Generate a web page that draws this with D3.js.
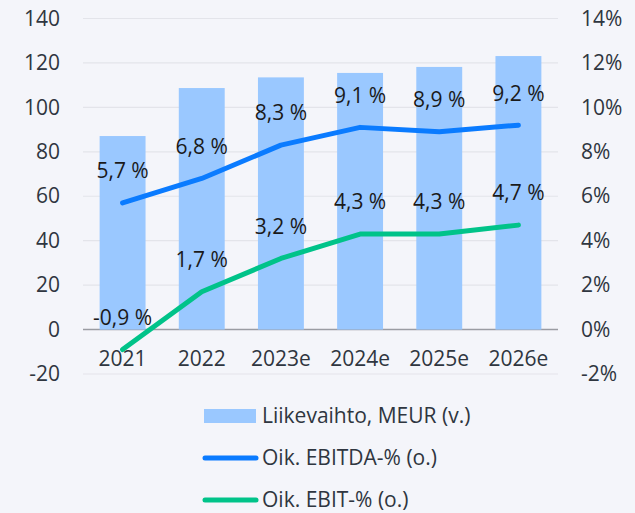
<!DOCTYPE html>
<html lang="fi">
<head>
<meta charset="UTF-8">
<title>Liikevaihto ja kannattavuus</title>
<style>
    body { margin: 0; background: #f4f5fa; }
    svg { display: block; font-family: "Open Sans", sans-serif; }
</style>
</head>
<body>
<svg></svg>
<script src="https://cdn.jsdelivr.net/npm/d3@7/dist/d3.min.js"></script>
<script>
const years = ["2021", "2022", "2023e", "2024e", "2025e", "2026e"];
const revenue = [87.1, 108.7, 113.5, 115.5, 118.2, 123.1];
const ebitdaPct = [5.7, 6.8, 8.3, 9.1, 8.9, 9.2];
const ebitPct = [-0.9, 1.7, 3.2, 4.3, 4.3, 4.7];
const leftTicks = [-20, 0, 20, 40, 60, 80, 100, 120, 140];
const rightTicks = [-2, 0, 2, 4, 6, 8, 10, 12, 14];
const legendText = ["Liikevaihto, MEUR (v.)", "Oik. EBITDA-% (o.)", "Oik. EBIT-% (o.)"];

const width = 635, height = 513;
const margin = { left: 83, right: 77, top: 18.5, bottom: 139 };
const fontSize = 21;
const textColor = "#2f3640";

const svg = d3.select("svg").attr("width", width).attr("height", height);

const x = d3.scaleBand().domain(years)
    .range([margin.left, width - margin.right])
    .paddingInner(0.42).paddingOuter(0.21);
const yL = d3.scaleLinear().domain([-20, 140]).range([height - margin.bottom, margin.top]);
const yR = d3.scaleLinear().domain([-2, 14]).range([height - margin.bottom, margin.top]);

// grid
svg.append("g").selectAll("line").data(leftTicks).join("line")
    .attr("x1", margin.left).attr("x2", width - margin.right)
    .attr("y1", d => yL(d)).attr("y2", d => yL(d))
    .attr("stroke", d => d === 0 ? "#9a9ca3" : "#e3e4ea")
    .attr("stroke-width", d => d === 0 ? 1.5 : 1.2);

// left axis
const axL = svg.append("g").attr("transform", `translate(${margin.left - 23},0)`)
    .call(d3.axisLeft(yL).tickValues(leftTicks).tickSize(0).tickPadding(0).tickFormat(d => String(d)));
axL.select(".domain").remove();
axL.selectAll("text").attr("font-size", fontSize).attr("fill", textColor).attr("font-family", "Open Sans");

// right axis
const axR = svg.append("g").attr("transform", `translate(${width - margin.right + 23},0)`)
    .call(d3.axisRight(yR).tickValues(rightTicks).tickSize(0).tickPadding(0).tickFormat(d => d + "%"));
axR.select(".domain").remove();
axR.selectAll("text").attr("font-size", fontSize).attr("fill", textColor).attr("font-family", "Open Sans");

// bars
svg.append("g").selectAll("rect").data(revenue).join("rect")
    .attr("x", (d, i) => x(years[i]))
    .attr("width", x.bandwidth())
    .attr("y", d => yL(d))
    .attr("height", d => yL(0) - yL(d))
    .attr("fill", "#9ac8ff");

// x labels
svg.append("g").selectAll("text").data(years).join("text")
    .attr("x", d => x(d) + x.bandwidth() / 2)
    .attr("y", yL(0) + 29)
    .attr("dy", "0.35em")
    .attr("text-anchor", "middle")
    .attr("font-size", fontSize).attr("fill", textColor)
    .text(d => d);

const line = d3.line()
    .x((d, i) => x(years[i]) + x.bandwidth() / 2)
    .y(d => yR(d));

const series = [
    { values: ebitdaPct, color: "#0a7bff" },
    { values: ebitPct, color: "#00c389" }
];

series.forEach(s => {
    svg.append("path").datum(s.values)
        .attr("d", line)
        .attr("fill", "none")
        .attr("stroke", s.color)
        .attr("stroke-width", 5)
        .attr("stroke-linecap", "round")
        .attr("stroke-linejoin", "round");

    svg.append("g").selectAll("text").data(s.values).join("text")
        .attr("x", (d, i) => x(years[i]) + x.bandwidth() / 2)
        .attr("y", d => yR(d) - 32)
        .attr("dy", "0.35em")
        .attr("text-anchor", "middle")
        .attr("font-size", fontSize).attr("fill", "#1a1a1a")
        .text(d => d.toFixed(1).replace(".", ",") + " %");
});

// legend
const legend = svg.append("g");
legend.append("rect").attr("x", 204).attr("y", 409).attr("width", 52).attr("height", 14).attr("fill", "#9ac8ff");
legend.append("line").attr("x1", 205).attr("x2", 256).attr("y1", 458).attr("y2", 458)
    .attr("stroke", "#0a7bff").attr("stroke-width", 5).attr("stroke-linecap", "round");
legend.append("line").attr("x1", 205).attr("x2", 256).attr("y1", 500).attr("y2", 500)
    .attr("stroke", "#00c389").attr("stroke-width", 5).attr("stroke-linecap", "round");
legend.selectAll("text").data(legendText).join("text")
    .attr("x", 262).attr("y", (d, i) => [416, 458, 500][i])
    .attr("dy", "0.35em")
    .attr("font-size", fontSize).attr("fill", textColor)
    .text(d => d);
</script>
</body>
</html>
